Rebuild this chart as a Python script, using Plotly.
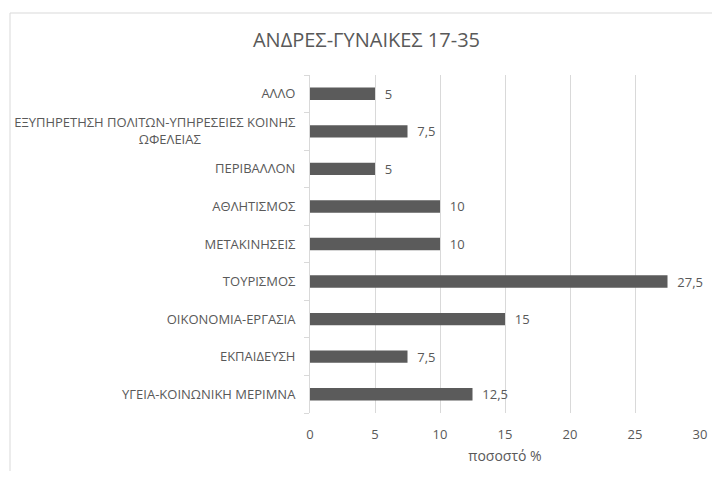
import plotly.graph_objects as go

categories = [
    "ΥΓΕΙΑ-ΚΟΙΝΩΝΙΚΗ ΜΕΡΙΜΝΑ",
    "ΕΚΠΑΙΔΕΥΣΗ",
    "ΟΙΚΟΝΟΜΙΑ-ΕΡΓΑΣΙΑ",
    "ΤΟΥΡΙΣΜΟΣ",
    "ΜΕΤΑΚΙΝΗΣΕΙΣ",
    "ΑΘΛΗΤΙΣΜΟΣ",
    "ΠΕΡΙΒΑΛΛΟΝ",
    "ΕΞΥΠΗΡΕΤΗΣΗ ΠΟΛΙΤΩΝ-ΥΠΗΡΕΣΕΙΕΣ ΚΟΙΝΗΣ<br>ΩΦΕΛΕΙΑΣ" + "\u00a0" * 28,
    "ΑΛΛΟ",
]
values = [12.5, 7.5, 15, 27.5, 10, 10, 5, 7.5, 5]
x_ticks = [0, 5, 10, 15, 20, 25, 30]

title_text = "ΑΝΔΡΕΣ-ΓΥΝΑΙΚΕΣ 17-35"
x_title = "ποσοστό %"

labels = ["\u00a0\u00a0" + (f"{v:g}".replace(".", ",")) for v in values]

FONT = "Open Sans"
GRAY = "#595959"

# page body has an 8px margin; work in reference pixel coords and shift
OFF = 8
W, H = 720 - OFF, 479 - 2 * OFF
plot_left, plot_right, plot_top, plot_bottom = 310, 700, 75, 413
L = plot_left - OFF
R = W - (plot_right - OFF)
T = plot_top - OFF
B = H - (plot_bottom - OFF)
pw = W - L - R
ph = H - T - B


def px_x(p):
    return (p - plot_left) / pw


def px_y(p):
    return (plot_bottom - p) / ph


fig = go.Figure(
    go.Bar(
        x=values,
        y=categories,
        orientation="h",
        marker=dict(color="#5b5b5b", line=dict(width=0)),
        width=0.33,
        text=labels,
        textposition="outside",
        constraintext="none",
        textfont=dict(family=FONT, size=13, color=GRAY),
        cliponaxis=False,
    )
)

fig.update_layout(
    width=W,
    height=H,
    margin=dict(l=L, r=R, t=T, b=B, autoexpand=False),
    paper_bgcolor="white",
    plot_bgcolor="white",
    showlegend=False,
    title=dict(
        text=title_text,
        x=(366.5 - OFF) / W,
        xanchor="center",
        y=1 - (40 - OFF) / H,
        yanchor="middle",
        font=dict(family=FONT, size=20, color=GRAY),
    ),
    xaxis=dict(
        range=[0, 30],
        tickvals=x_ticks,
        showgrid=True,
        gridcolor="#d9d9d9",
        gridwidth=1,
        zeroline=False,
        showline=False,
        ticks="",
        ticklabelstandoff=12,
        tickfont=dict(family=FONT, size=13, color=GRAY),
        title=dict(text=x_title, font=dict(family=FONT, size=14, color=GRAY), standoff=9),
    ),
    yaxis=dict(
        type="category",
        showline=True,
        linecolor="#d9d9d9",
        linewidth=1,
        ticks="outside",
        tickson="boundaries",
        ticklen=5,
        tickcolor="#d9d9d9",
        ticklabelstandoff=11,
        tickfont=dict(family=FONT, size=13, color=GRAY),
        showgrid=False,
    ),
    shapes=[
        dict(
            type="rect",
            xref="paper",
            yref="paper",
            x0=px_x(10),
            x1=px_x(740),
            y0=px_y(500),
            y1=px_y(13),
            line=dict(color="#d9d9d9", width=1),
            fillcolor="rgba(0,0,0,0)",
            layer="below",
        )
    ],
)

fig.write_html("out.html")
